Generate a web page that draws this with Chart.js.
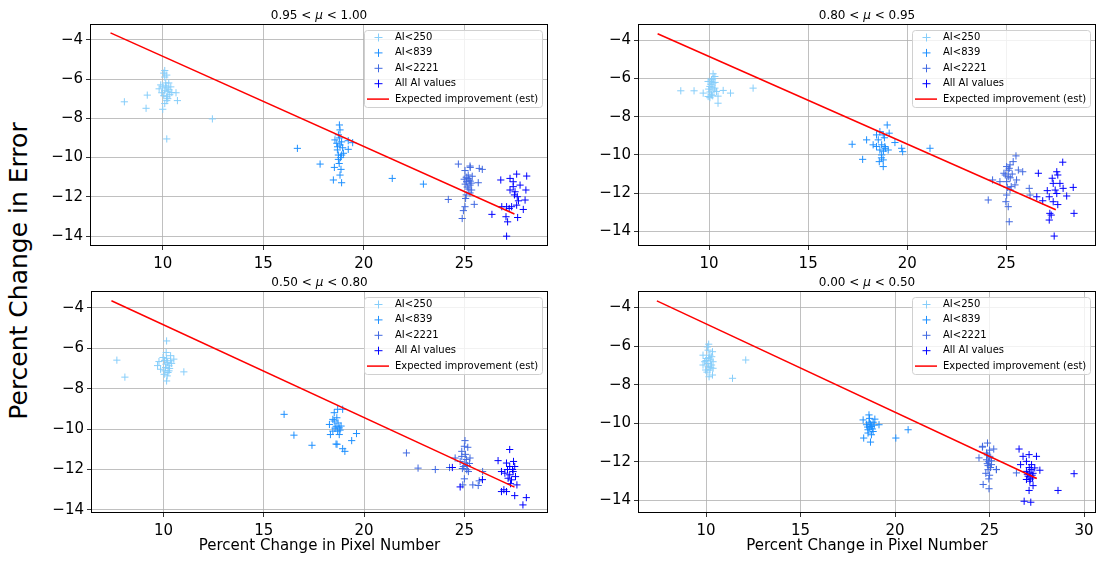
<!DOCTYPE html>
<html>
<head>
<meta charset="utf-8">
<script src="https://cdn.jsdelivr.net/npm/chart.js@4.4.1/dist/chart.umd.min.js"></script>
<style>
  body { margin: 0; background: #fff; width: 1102px; height: 561px; position: relative; overflow: hidden; }
  .panel { position: absolute; }
  #ylab {
    position: absolute; left: 18px; top: 271px;
    transform: translate(-50%, -50%) rotate(-90deg);
    font: 25px "DejaVu Sans", sans-serif; white-space: nowrap; color: #000;
  }
</style>
</head>
<body>
<div id="ylab">Percent Change in Error</div>
<div class="panel" style="left:0;top:0;width:555px;height:274px"><canvas id="c1"></canvas></div>
<div class="panel" style="left:548px;top:0;width:554px;height:274px"><canvas id="c2"></canvas></div>
<div class="panel" style="left:0;top:267px;width:555px;height:294px"><canvas id="c3"></canvas></div>
<div class="panel" style="left:548px;top:267px;width:554px;height:294px"><canvas id="c4"></canvas></div>
<script>
// series names and the expected-improvement line
const seriesLabels = ["AI<250", "AI<839", "AI<2221", "All AI values"];
const lineLabel = "Expected improvement (est)";
const lineX = [7.4, 27.5];
const lineY = [-3.65, -12.87];

const xTicks = [10, 15, 20, 25];
const xTicksWide = [10, 15, 20, 25, 30];
const yTicks = [-14, -12, -10, -8, -6, -4];

// 0.95 < mu < 1.00
const s1_250 = [[8.09,-7.16],[9.23,-6.82],[9.17,-7.49],[10.0,-7.54],[10.2,-9.05],[10.73,-7.1],[10.66,-6.7],[12.47,-8.03],[10.1,-5.57],[10.05,-5.7],[10.15,-6.2],[10.1,-5.9],[10.2,-5.8],[9.9,-6.3],[10.0,-6.4],[10.2,-6.45],[10.3,-6.2],[10.1,-6.6],[10.25,-6.65],[9.82,-6.5],[10.45,-6.69],[10.05,-6.85],[10.2,-6.9],[10.35,-6.8],[10.2,-7.1],[10.1,-7.25],[9.95,-6.7],[10.3,-6.55],[10.15,-6.35],[10.4,-6.4],[10.25,-7.0]];
const s1_839 = [[16.7,-9.53],[17.83,-10.33],[18.49,-11.14],[18.54,-10.5],[18.82,-10.89],[18.9,-11.28],[18.79,-8.34],[18.82,-8.59],[18.74,-8.84],[18.57,-9.1],[18.66,-9.27],[18.82,-9.36],[18.74,-9.87],[18.9,-9.87],[18.99,-9.78],[18.74,-10.09],[18.87,-10.6],[19.23,-9.58],[19.45,-9.24],[19.23,-9.14],[18.69,-9.61],[18.8,-9.0],[18.9,-9.2],[18.7,-9.45],[18.85,-10.0],[18.95,-9.5],[18.78,-10.3],[21.42,-11.06],[22.97,-11.35]];
const s1_2221 = [[24.71,-10.33],[25.29,-10.43],[25.75,-10.55],[25.9,-10.6],[25.04,-10.66],[25.2,-10.89],[25.12,-11.23],[25.29,-11.4],[25.37,-11.65],[25.7,-11.28],[24.21,-12.13],[25.07,-12.08],[25.5,-12.38],[24.96,-12.7],[24.9,-13.1],[25.04,-12.5],[25.2,-11.06],[25.29,-11.8],[25.3,-10.5],[25.1,-11.0],[25.25,-11.15],[25.15,-11.5],[25.35,-11.3],[25.05,-11.35],[25.2,-11.6],[25.1,-11.9],[25.3,-11.2],[25.4,-10.95],[25.0,-11.1]];
const s1_all = [[26.38,-12.89],[26.82,-11.14],[27.28,-11.06],[27.61,-10.84],[28.11,-10.94],[27.44,-11.23],[27.28,-11.65],[27.53,-11.74],[28.07,-11.65],[28.03,-12.16],[27.64,-11.99],[27.61,-12.42],[27.94,-12.64],[27.11,-12.5],[27.24,-12.59],[27.08,-13.01],[27.16,-13.27],[27.66,-13.05],[27.11,-14.0],[27.44,-11.48],[27.78,-11.4],[26.87,-12.5],[27.36,-12.5],[27.5,-11.9],[27.7,-12.2]];

// 0.80 < mu < 0.95
const s2_250 = [[8.57,-6.64],[9.24,-6.64],[9.7,-6.76],[9.95,-6.94],[10.2,-5.75],[10.29,-5.89],[10.12,-6.06],[10.04,-6.41],[10.29,-6.5],[10.37,-6.68],[10.12,-6.85],[10.45,-6.92],[10.71,-6.62],[10.45,-7.29],[11.08,-6.76],[12.22,-6.5],[10.2,-6.23],[10.04,-7.0],[9.95,-6.15],[10.1,-6.3],[10.2,-6.0],[10.25,-6.6],[10.05,-6.7],[10.15,-6.45],[10.3,-6.2],[9.98,-6.55],[10.18,-6.9],[10.1,-6.15]];
const s2_839 = [[17.22,-9.44],[17.75,-10.23],[17.95,-9.21],[18.28,-9.47],[18.45,-8.95],[18.62,-8.78],[18.99,-8.43],[19.09,-8.86],[18.79,-8.95],[18.54,-9.21],[18.71,-9.47],[18.87,-9.56],[19.04,-9.74],[18.62,-9.74],[18.71,-10.0],[18.79,-10.26],[18.79,-10.61],[18.59,-10.35],[19.38,-9.35],[19.72,-9.65],[19.77,-9.83],[21.15,-9.65],[18.45,-9.56],[18.8,-9.8],[18.9,-9.65],[18.7,-10.15],[18.85,-9.1]];
const s2_2221 = [[24.09,-12.36],[24.31,-11.31],[24.68,-11.4],[24.88,-10.96],[25.02,-10.61],[25.19,-10.52],[25.49,-10.05],[25.35,-10.35],[25.61,-10.79],[25.83,-10.88],[25.52,-11.31],[25.44,-11.57],[25.19,-11.83],[25.02,-12.1],[24.98,-12.45],[25.1,-12.71],[25.15,-13.5],[26.16,-11.75],[26.2,-12.1],[25.1,-11.14],[25.25,-11.66],[24.95,-11.05],[25.02,-11.4],[25.1,-10.8],[25.2,-11.2],[25.05,-11.7],[25.3,-11.0],[25.15,-10.7]];
const s2_all = [[26.62,-10.96],[26.54,-12.19],[26.84,-12.4],[27.17,-12.19],[27.07,-11.87],[27.37,-11.49],[27.55,-10.88],[27.6,-11.05],[27.85,-10.38],[27.71,-11.49],[27.87,-11.75],[28.05,-12.15],[28.38,-11.7],[28.42,-13.06],[27.37,-12.45],[27.2,-13.06],[27.17,-13.41],[27.27,-13.15],[27.42,-14.25],[27.55,-12.02],[27.47,-11.84],[27.6,-12.6],[27.32,-11.22]];

// 0.50 < mu < 0.80
const s3_250 = [[7.67,-6.59],[8.07,-7.43],[10.15,-5.64],[10.13,-6.21],[9.97,-6.46],[9.77,-6.66],[9.7,-6.86],[9.85,-7.04],[10.07,-7.12],[10.18,-7.37],[10.15,-7.62],[10.35,-6.62],[10.51,-6.54],[10.27,-6.87],[10.27,-7.12],[11.01,-7.17],[10.12,-6.79],[10.03,-7.29],[10.35,-6.37],[10.2,-6.7],[10.1,-6.95],[10.3,-7.0],[10.05,-6.6],[10.22,-7.2],[10.15,-6.5],[10.4,-6.75]];
const s3_839 = [[16.01,-9.27],[16.5,-10.3],[17.4,-10.8],[18.32,-10.27],[18.27,-9.77],[18.44,-9.52],[18.51,-9.19],[18.68,-9.02],[18.93,-9.02],[18.6,-9.86],[18.68,-10.1],[18.76,-10.27],[18.6,-10.74],[18.93,-10.97],[19.04,-11.1],[19.38,-10.57],[19.62,-10.22],[18.51,-9.6],[18.76,-9.94],[18.64,-9.44],[18.44,-10.1],[18.7,-9.7],[18.85,-9.85],[18.55,-9.95],[18.8,-10.05],[18.65,-10.75]];
const s3_2221 = [[22.11,-11.18],[22.69,-11.93],[23.55,-12.0],[24.26,-11.9],[24.54,-11.43],[24.87,-11.1],[25.03,-10.57],[25.17,-10.9],[25.28,-11.43],[24.79,-11.6],[24.95,-11.85],[25.12,-12.01],[25.2,-12.1],[25.0,-12.46],[24.92,-12.76],[25.42,-12.76],[25.69,-12.79],[25.74,-12.56],[25.91,-12.1],[24.87,-11.35],[25.03,-11.68],[25.1,-11.5],[25.15,-11.8],[24.9,-11.95],[25.05,-11.25],[25.25,-11.7],[25.0,-10.85]];
const s3_all = [[26.68,-11.56],[27.26,-11.01],[27.1,-11.68],[26.85,-12.1],[27.26,-11.85],[27.43,-12.1],[27.51,-11.85],[27.35,-12.51],[27.62,-12.76],[26.85,-13.09],[27.1,-13.09],[26.97,-13.0],[27.51,-13.29],[28.09,-13.39],[27.92,-13.75],[27.18,-12.43],[27.02,-12.18],[27.26,-12.26],[24.79,-12.86],[24.4,-11.9],[25.9,-12.5],[27.4,-12.0],[27.15,-12.0],[27.55,-12.35],[27.3,-12.7],[27.45,-11.6]];

// 0.00 < mu < 0.50
const s4_250 = [[10.14,-5.9],[10.11,-6.21],[10.34,-6.29],[9.84,-6.47],[10.02,-6.64],[10.23,-6.72],[9.93,-6.81],[10.37,-6.81],[9.84,-6.98],[10.11,-7.07],[10.29,-6.98],[9.98,-7.24],[10.2,-7.24],[10.37,-7.15],[10.16,-7.59],[10.34,-7.5],[11.4,-7.67],[12.1,-6.72],[10.07,-6.04],[10.2,-6.47],[10.1,-6.9],[10.25,-7.1],[10.05,-7.35],[10.15,-6.6],[10.3,-6.55],[10.0,-6.75]];
const s4_839 = [[18.62,-9.57],[18.31,-9.83],[18.93,-9.79],[19.15,-10.08],[18.49,-10.08],[18.66,-10.25],[18.84,-10.43],[18.57,-10.51],[18.75,-10.6],[18.34,-10.77],[18.7,-10.98],[20.04,-10.77],[20.69,-10.34],[18.62,-9.95],[18.75,-10.17],[18.57,-10.34],[18.84,-9.95],[18.7,-10.05],[18.8,-10.3],[18.65,-9.75],[18.55,-10.2],[18.9,-10.1]];
const s4_2221 = [[24.89,-11.03],[24.62,-11.24],[25.22,-11.34],[24.44,-11.8],[24.84,-11.55],[25.01,-11.72],[24.84,-11.9],[25.1,-12.15],[25.36,-12.41],[24.92,-12.41],[24.96,-12.89],[24.66,-13.18],[24.97,-13.4],[25.01,-11.8],[24.92,-12.2],[24.8,-12.6],[24.63,-11.2],[25.36,-12.4],[26.42,-12.58],[25.0,-11.4],[24.95,-12.0],[25.05,-12.3],[24.9,-11.65],[25.0,-12.7],[25.1,-11.95],[24.88,-12.1]];
const s4_all = [[26.56,-11.34],[26.77,-11.72],[27.09,-11.63],[27.48,-11.72],[26.64,-12.15],[26.95,-11.98],[27.22,-12.15],[27.39,-12.32],[27.66,-12.44],[26.95,-12.5],[27.13,-12.58],[27.04,-12.75],[27.27,-12.84],[26.95,-12.92],[27.13,-13.01],[27.3,-13.24],[27.09,-13.49],[26.83,-14.05],[27.18,-14.1],[28.62,-13.49],[29.47,-12.62],[27.3,-12.6],[27.2,-12.4],[27.1,-12.3],[27.25,-12.7],[27.0,-12.65],[27.15,-12.9]];

const seriesColors = ["#87cefa", "#1e90ff", "#4169e1", "#0000ff"];
const FONT = "DejaVu Sans";
const xTitle = "Percent Change in Pixel Number";

const minus = v => String(v).replace("-", "\u2212");

// frame, title (with italic mu) and matplotlib-like legend
const extras = {
  id: "extras",
  afterDatasetsDraw(chart) {
    const a = chart.chartArea, ctx = chart.ctx;
    ctx.save();
    ctx.strokeStyle = "#000";
    ctx.lineWidth = 1;
    ctx.strokeRect(a.left + 0.5, a.top + 0.5, a.right - a.left - 1, a.bottom - a.top - 1);
    ctx.restore();
  },
  afterDraw(chart) {
    const a = chart.chartArea, ctx = chart.ctx;
    const t = chart.options.plugins.extras;
    ctx.save();
    // title
    const parts = [[t.lo + " < ", "12px " + FONT], ["\u03bc", "italic 12px " + FONT], [" < " + t.hi, "12px " + FONT]];
    let tw = 0;
    parts.forEach(p => { ctx.font = p[1]; tw += ctx.measureText(p[0]).width; });
    let tx = (a.left + a.right) / 2 - tw / 2;
    ctx.fillStyle = "#000";
    ctx.textBaseline = "alphabetic";
    parts.forEach(p => { ctx.font = p[1]; ctx.fillText(p[0], tx, a.top - 5); tx += ctx.measureText(p[0]).width; });

    // legend
    const w = 178, h = 77;
    const lx = a.right - 6 - w, ly = a.top + 6;
    ctx.beginPath();
    ctx.roundRect(lx + 0.5, ly + 0.5, w, h, 3);
    ctx.fillStyle = "rgba(255,255,255,0.8)";
    ctx.fill();
    ctx.strokeStyle = "#d0d0d0";
    ctx.lineWidth = 1;
    ctx.stroke();
    ctx.font = "10px " + FONT;
    ctx.textBaseline = "middle";
    chart.data.datasets.forEach((ds, i) => {
      const cy = ly + 7.5 + i * 15.4;
      ctx.strokeStyle = ds.borderColor;
      if (ds.showLine) {
        ctx.lineWidth = 1.5;
        ctx.beginPath();
        ctx.moveTo(lx + 3, cy); ctx.lineTo(lx + 25, cy);
        ctx.stroke();
      } else {
        ctx.lineWidth = 1;
        ctx.beginPath();
        ctx.moveTo(lx + 14.5 - 4, cy); ctx.lineTo(lx + 14.5 + 4, cy);
        ctx.moveTo(lx + 14.5, cy - 4); ctx.lineTo(lx + 14.5, cy + 4);
        ctx.stroke();
      }
      ctx.fillStyle = "#000";
      ctx.fillText(ds.label, lx + 31, cy);
    });
    ctx.restore();
  }
};

const panels = [
  { id: "c1", lo: "0.95", hi: "1.00", sets: [s1_250, s1_839, s1_2221, s1_all], x: [6.38, 29.17], y: [-14.5, -3.2], xt: xTicks, yw: 90, pr: 7, bottom: false },
  { id: "c2", lo: "0.80", hi: "0.95", sets: [s2_250, s2_839, s2_2221, s2_all], x: [6.41, 29.53], y: [-14.77, -3.14], xt: xTicks, yw: 90, pr: 6, bottom: false },
  { id: "c3", lo: "0.50", hi: "0.80", sets: [s3_250, s3_839, s3_2221, s3_all], x: [6.38, 29.17], y: [-14.15, -3.17], xt: xTicks, yw: 91, pr: 7, bottom: true },
  { id: "c4", lo: "0.00", hi: "0.50", sets: [s4_250, s4_839, s4_2221, s4_all], x: [6.4, 30.63], y: [-14.66, -3.14], xt: xTicksWide, yw: 90, pr: 6, bottom: true }
];

panels.forEach(p => {
  const datasets = p.sets.map((pts, i) => ({
    label: seriesLabels[i],
    data: pts.map(([x, y]) => ({ x, y })),
    borderColor: seriesColors[i],
    backgroundColor: seriesColors[i],
    pointStyle: "cross",
    pointRadius: 3.6,
    pointHoverRadius: 3.6,
    borderWidth: 1,
    showLine: false,
    order: 5 - i
  }));
  datasets.push({
    type: "line",
    label: lineLabel,
    data: lineX.map((x, i) => ({ x, y: lineY[i] })),
    borderColor: "#ff0000",
    borderWidth: 1.5,
    pointRadius: 0,
    showLine: true,
    fill: false,
    order: 0
  });

  new Chart(document.getElementById(p.id), {
    type: "scatter",
    data: { datasets },
    options: {
      responsive: true,
      maintainAspectRatio: false,
      animation: false,
      events: [],
      layout: { padding: { top: 24, right: p.pr, left: 0, bottom: 0 } },
      plugins: {
        legend: { display: false },
        tooltip: { enabled: false },
        extras: { lo: p.lo, hi: p.hi }
      },
      scales: {
        x: {
          type: "linear",
          min: p.x[0],
          max: p.x[1],
          afterBuildTicks: s => { s.ticks = p.xt.map(v => ({ value: v })); },
          afterFit: s => { s.height = p.bottom ? 48 : 28; },
          grid: { color: "#b0b0b0", lineWidth: 0.8, tickColor: "#000", tickLength: 4 },
          border: { display: false },
          ticks: { color: "#000", font: { family: FONT, size: 15 }, padding: 5, maxRotation: 0, callback: minus },
          title: p.bottom
            ? { display: true, text: xTitle, color: "#000", font: { family: FONT, size: 15 }, padding: { top: 0, bottom: 6 } }
            : { display: false }
        },
        y: {
          type: "linear",
          min: p.y[0],
          max: p.y[1],
          afterBuildTicks: s => { s.ticks = yTicks.map(v => ({ value: v })); },
          afterFit: s => { s.width = p.yw; },
          grid: { color: "#b0b0b0", lineWidth: 0.8, tickColor: "#000", tickLength: 4 },
          border: { display: false },
          ticks: { color: "#000", font: { family: FONT, size: 15 }, padding: 3, callback: minus }
        }
      }
    },
    plugins: [extras]
  });
});
</script>
</body>
</html>
